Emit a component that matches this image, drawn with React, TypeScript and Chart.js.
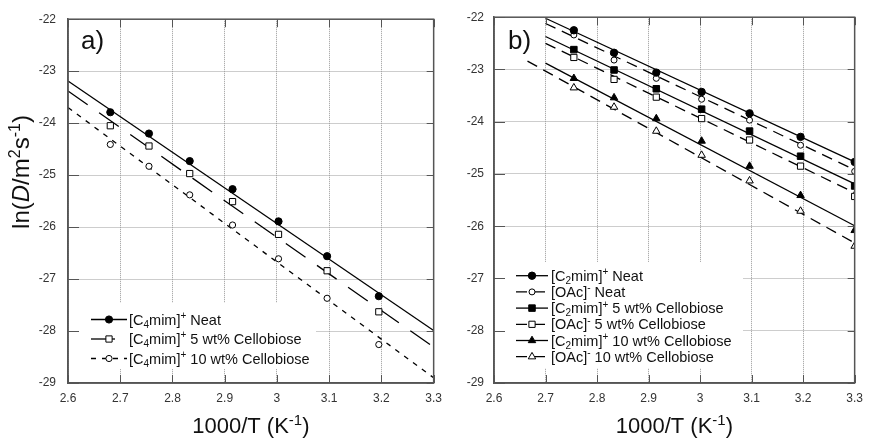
import React, { useEffect, useRef } from 'react';
import { Chart, registerables } from 'chart.js';

Chart.register(...registerables);

const FONT = "'Liberation Sans', Arial, Helvetica, sans-serif";

// ---------- axis ticks ----------
const xTickValues = [2.6, 2.7, 2.8, 2.9, 3.0, 3.1, 3.2, 3.3];
const xTickLabels = ['2.6', '2.7', '2.8', '2.9', '3', '3.1', '3.2', '3.3'];
const yTickValues = [-29, -28, -27, -26, -25, -24, -23, -22];
const yTickLabels = ['-29', '-28', '-27', '-26', '-25', '-24', '-23', '-22'];

// ---------- panel a data ----------
const invTempA = [2.681, 2.755, 2.833, 2.915, 3.003, 3.096, 3.195];
const c4Neat = [-23.79, -24.2, -24.73, -25.27, -25.89, -26.56, -27.33];
const c4Cello5 = [-24.05, -24.44, -24.97, -25.51, -26.14, -26.84, -27.63];
const c4Cello10 = [-24.41, -24.83, -25.38, -25.96, -26.61, -27.37, -28.26];
const fitXA = [2.6, 3.3];
const fitC4Neat = [-23.19, -27.99];
const fitC4Cello5 = [-23.38, -28.31];
const fitC4Cello10 = [-23.7, -28.9];

// ---------- panel b data ----------
const invTempB = [2.755, 2.833, 2.915, 3.003, 3.096, 3.195, 3.3];
const c2Neat = [-22.25, -22.68, -23.06, -23.43, -23.84, -24.29, -24.77];
const oacNeat = [-22.34, -22.82, -23.17, -23.57, -23.97, -24.45, -24.95];
const c2Cello5 = [-22.62, -23.01, -23.37, -23.76, -24.18, -24.66, -25.23];
const oacCello5 = [-22.77, -23.19, -23.53, -23.94, -24.35, -24.85, -25.43];
const c2Cello10 = [-23.17, -23.54, -23.94, -24.37, -24.85, -25.41, -26.08];
const oacCello10 = [-23.35, -23.72, -24.18, -24.64, -25.13, -25.71, -26.38];
const fitXB = [2.7, 3.3];
const fitXBLast = [2.665, 3.3];
const fitC2Neat = [-22.02, -24.77];
const fitOacNeat = [-22.12, -24.92];
const fitC2Cello5 = [-22.37, -25.19];
const fitOacCello5 = [-22.5, -25.36];
const fitC2Cello10 = [-22.88, -25.99];
const fitOacCello10 = [-22.84, -26.32];

type MarkerStyle = 'circle' | 'rect' | 'triangle';
interface Series {
  label: string;
  x: number[];
  y: number[];
  style: MarkerStyle;
  filled: boolean;
  radius: number;
  fitX: number[];
  fitY: number[];
  dash: number[];
}

interface PanelCfg {
  tag: string;
  left: number;
  width: number;
  yAxisWidth: number;
  padRight: number;
  yTickPad: number;
  showYTitle: boolean;
  series: Series[];
  legendBox: [number, number, number, number];
  legendFirst: number;
  legendStep: number;
  sampleX1: number;
  sampleX2: number;
  textX: number;
  tagX: number;
  tagY: number;
}

const LONG_DASH = [24, 14];
const SHORT_DASH = [5, 6];
const B_DASH = [11, 7];

const panelA: PanelCfg = {
  tag: 'a)',
  left: 0,
  width: 450,
  yAxisWidth: 68,
  padRight: 13,
  yTickPad: 12,
  showYTitle: true,
  series: [
    { label: '[C_{4}mim]^{+} Neat', x: invTempA, y: c4Neat, style: 'circle', filled: true, radius: 3.6, fitX: fitXA, fitY: fitC4Neat, dash: [] },
    { label: '[C_{4}mim]^{+} 5 wt% Cellobiose', x: invTempA, y: c4Cello5, style: 'rect', filled: false, radius: 4.4, fitX: fitXA, fitY: fitC4Cello5, dash: LONG_DASH },
    { label: '[C_{4}mim]^{+} 10 wt% Cellobiose', x: invTempA, y: c4Cello10, style: 'circle', filled: false, radius: 3.1, fitX: fitXA, fitY: fitC4Cello10, dash: SHORT_DASH },
  ],
  legendBox: [69, 303, 247, 66],
  legendFirst: 319.5,
  legendStep: 19.5,
  sampleX1: 91,
  sampleX2: 127,
  textX: 129,
  tagX: 81,
  tagY: 49,
};

const panelB: PanelCfg = {
  tag: 'b)',
  left: 450,
  width: 421,
  yAxisWidth: 44,
  padRight: 10,
  yTickPad: 10,
  showYTitle: false,
  series: [
    { label: '[C_{2}mim]^{+} Neat', x: invTempB, y: c2Neat, style: 'circle', filled: true, radius: 3.7, fitX: fitXB, fitY: fitC2Neat, dash: [] },
    { label: '[OAc]^{-} Neat', x: invTempB, y: oacNeat, style: 'circle', filled: false, radius: 3.0, fitX: fitXB, fitY: fitOacNeat, dash: B_DASH },
    { label: '[C_{2}mim]^{+} 5 wt% Cellobiose', x: invTempB, y: c2Cello5, style: 'rect', filled: true, radius: 4.6, fitX: fitXB, fitY: fitC2Cello5, dash: [] },
    { label: '[OAc]^{-} 5 wt% Cellobiose', x: invTempB, y: oacCello5, style: 'rect', filled: false, radius: 4.4, fitX: fitXB, fitY: fitOacCello5, dash: B_DASH },
    { label: '[C_{2}mim]^{+} 10 wt% Cellobiose', x: invTempB, y: c2Cello10, style: 'triangle', filled: true, radius: 4.3, fitX: fitXB, fitY: fitC2Cello10, dash: [] },
    { label: '[OAc]^{-} 10 wt% Cellobiose', x: invTempB, y: oacCello10, style: 'triangle', filled: false, radius: 4.3, fitX: fitXBLast, fitY: fitOacCello10, dash: B_DASH },
  ],
  legendBox: [45, 262, 248, 106],
  legendFirst: 275.7,
  legendStep: 16.2,
  sampleX1: 66,
  sampleX2: 98,
  textX: 101,
  tagX: 58,
  tagY: 49,
};

type Seg = { t: string; k: 'n' | 'sub' | 'sup' | 'i' };

function parseRich(s: string): Seg[] {
  const out: Seg[] = [];
  const re = /_\{([^}]*)\}|\^\{([^}]*)\}|\*\{([^}]*)\}|([^_^*]+)/g;
  let m: RegExpExecArray | null;
  while ((m = re.exec(s))) {
    if (m[1] !== undefined) out.push({ t: m[1], k: 'sub' });
    else if (m[2] !== undefined) out.push({ t: m[2], k: 'sup' });
    else if (m[3] !== undefined) out.push({ t: m[3], k: 'i' });
    else out.push({ t: m[4], k: 'n' });
  }
  return out;
}

function drawRich(ctx: CanvasRenderingContext2D, s: string, x: number, y: number, size: number, align: 'left' | 'center', color: string) {
  const segs = parseRich(s);
  const small = Math.round(size * 0.68);
  const fontFor = (k: string) =>
    k === 'sub' || k === 'sup' ? `${small}px ${FONT}` : k === 'i' ? `italic ${size}px ${FONT}` : `${size}px ${FONT}`;
  let total = 0;
  for (const sg of segs) {
    ctx.font = fontFor(sg.k);
    total += ctx.measureText(sg.t).width;
  }
  let cx = align === 'center' ? x - total / 2 : x;
  ctx.textAlign = 'left';
  ctx.textBaseline = 'alphabetic';
  ctx.fillStyle = color;
  for (const sg of segs) {
    ctx.font = fontFor(sg.k);
    const dy = sg.k === 'sub' ? size * 0.22 : sg.k === 'sup' ? -size * 0.38 : 0;
    ctx.fillText(sg.t, cx, y + dy);
    cx += ctx.measureText(sg.t).width;
  }
}

function drawMarker(ctx: CanvasRenderingContext2D, style: MarkerStyle, x: number, y: number, r: number, filled: boolean) {
  ctx.beginPath();
  if (style === 'circle') {
    ctx.arc(x, y, r, 0, Math.PI * 2);
  } else if (style === 'rect') {
    const s = r * Math.SQRT1_2;
    ctx.rect(x - s, y - s, 2 * s, 2 * s);
  } else {
    const a = (2 * Math.PI) / 3;
    ctx.moveTo(x, y - r);
    ctx.lineTo(x + Math.sin(a) * r, y - Math.cos(a) * r);
    ctx.lineTo(x + Math.sin(2 * a) * r, y - Math.cos(2 * a) * r);
    ctx.closePath();
  }
  ctx.fillStyle = filled ? '#000' : '#fff';
  ctx.fill();
  ctx.setLineDash([]);
  ctx.lineWidth = 1;
  ctx.strokeStyle = '#000';
  ctx.stroke();
}

function labelFor(values: number[], labels: string[], v: number) {
  const i = values.findIndex((t) => Math.abs(t - v) < 1e-6);
  return i >= 0 ? labels[i] : '';
}

function makeOverlay(cfg: PanelCfg) {
  return {
    id: 'overlay_' + cfg.tag,
    beforeDraw(chart: any) {
      const ctx = chart.ctx as CanvasRenderingContext2D;
      ctx.save();
      ctx.fillStyle = '#fff';
      ctx.fillRect(0, 0, chart.width, chart.height);
      ctx.restore();
    },
    afterDraw(chart: any) {
      const ctx = chart.ctx as CanvasRenderingContext2D;
      const a = chart.chartArea;
      const xs = chart.scales.x;
      const ys = chart.scales.y;
      ctx.save();
      // legend background
      const [bx, by, bw, bh] = cfg.legendBox;
      ctx.fillStyle = '#fff';
      ctx.fillRect(bx, by, bw, bh);
      // frame
      ctx.setLineDash([]);
      ctx.strokeStyle = '#555';
      ctx.lineWidth = 1.5;
      ctx.strokeRect(a.left, a.top, a.right - a.left, a.bottom - a.top);
      // inward ticks
      ctx.lineWidth = 1;
      ctx.strokeStyle = '#555';
      ctx.beginPath();
      for (const v of xTickValues) {
        const px = Math.round(xs.getPixelForValue(v)) + 0.5;
        ctx.moveTo(px, a.top);
        ctx.lineTo(px, a.top + 8);
        ctx.moveTo(px, a.bottom);
        ctx.lineTo(px, a.bottom - 8);
      }
      for (const v of yTickValues) {
        const py = Math.round(ys.getPixelForValue(v)) + 0.5;
        ctx.moveTo(a.left, py);
        ctx.lineTo(a.left + 11, py);
        ctx.moveTo(a.right, py);
        ctx.lineTo(a.right - 7, py);
      }
      ctx.stroke();
      // legend entries
      cfg.series.forEach((s, i) => {
        const y = cfg.legendFirst + i * cfg.legendStep;
        ctx.beginPath();
        ctx.setLineDash(s.dash);
        ctx.lineDashOffset = 0;
        ctx.lineWidth = 1.3;
        ctx.strokeStyle = '#000';
        ctx.moveTo(cfg.sampleX1, y);
        ctx.lineTo(cfg.sampleX2, y);
        ctx.stroke();
        drawMarker(ctx, s.style, (cfg.sampleX1 + cfg.sampleX2) / 2, y, s.radius, s.filled);
        drawRich(ctx, s.label, cfg.textX, y + 5, 14.5, 'left', '#111');
      });
      // panel tag
      ctx.font = `26px ${FONT}`;
      ctx.fillStyle = '#111';
      ctx.textAlign = 'left';
      ctx.textBaseline = 'alphabetic';
      ctx.fillText(cfg.tag, cfg.tagX, cfg.tagY);
      // x title
      drawRich(ctx, '1000/T (K^{-1})', (a.left + a.right) / 2, 433, 22, 'center', '#111');
      // y title
      if (cfg.showYTitle) {
        ctx.save();
        ctx.translate(29, 172);
        ctx.rotate(-Math.PI / 2);
        drawRich(ctx, 'ln(*{D}/m^{2}s^{-1})', 0, 0, 24, 'center', '#111');
        ctx.restore();
      }
      ctx.restore();
    },
  };
}

function Panel({ cfg }: { cfg: PanelCfg }) {
  const ref = useRef<HTMLCanvasElement | null>(null);
  useEffect(() => {
    if (!ref.current) return;
    const datasets: any[] = [];
    cfg.series.forEach((s) => {
      datasets.push({
        label: s.label,
        data: s.x.map((x, j) => ({ x, y: s.y[j] })),
        showLine: false,
        pointStyle: s.style,
        pointRadius: s.radius,
        pointBackgroundColor: s.filled ? '#000' : '#fff',
        pointBorderColor: '#000',
        pointBorderWidth: 1,
        order: 1,
      });
    });
    cfg.series.forEach((s) => {
      datasets.push({
        label: s.label + ' fit',
        data: s.fitX.map((x, j) => ({ x, y: s.fitY[j] })),
        showLine: true,
        pointRadius: 0,
        borderColor: '#000',
        borderWidth: 1.3,
        borderDash: s.dash,
        fill: false,
        order: 2,
      });
    });
    const chart = new Chart(ref.current, {
      type: 'scatter',
      data: { datasets },
      options: {
        responsive: false,
        animation: false,
        devicePixelRatio: 1,
        events: [],
        layout: { padding: { top: 17, right: cfg.padRight, left: 0, bottom: 0 } },
        plugins: { legend: { display: false }, tooltip: { enabled: false }, title: { display: false } },
        scales: {
          x: {
            type: 'linear',
            min: 2.6,
            max: 3.3,
            afterBuildTicks: (s: any) => {
              s.ticks = xTickValues.map((v) => ({ value: v }));
            },
            afterFit: (s: any) => {
              s.height = 55;
            },
            ticks: {
              callback: (v: any) => labelFor(xTickValues, xTickLabels, Number(v)),
              font: { size: 12, family: FONT },
              color: '#333',
              padding: 8,
              maxRotation: 0,
              autoSkip: false,
            },
            grid: { color: '#9a9a9a', lineWidth: 1, drawTicks: false },
            border: { display: true, color: '#555', width: 1.5, dash: [1, 1] },
          },
          y: {
            type: 'linear',
            min: -29,
            max: -22,
            afterBuildTicks: (s: any) => {
              s.ticks = yTickValues.map((v) => ({ value: v }));
            },
            afterFit: (s: any) => {
              s.width = cfg.yAxisWidth;
            },
            ticks: {
              callback: (v: any) => labelFor(yTickValues, yTickLabels, Number(v)),
              font: { size: 12, family: FONT },
              color: '#333',
              padding: cfg.yTickPad,
              autoSkip: false,
            },
            grid: { color: '#9a9a9a', lineWidth: 1, drawTicks: false },
            border: { display: true, color: '#555', width: 1.5, dash: [1, 1] },
          },
        },
      } as any,
      plugins: [makeOverlay(cfg)],
    });
    return () => chart.destroy();
  }, [cfg]);
  return (
    <canvas
      ref={ref}
      width={cfg.width}
      height={438}
      style={{ position: 'absolute', left: cfg.left, top: 0, width: cfg.width, height: 438 }}
    />
  );
}

export default function App() {
  return (
    <div style={{ position: 'fixed', left: 0, top: 0, width: 871, height: 438, background: '#fff', overflow: 'hidden' }}>
      <Panel cfg={panelA} />
      <Panel cfg={panelB} />
    </div>
  );
}
